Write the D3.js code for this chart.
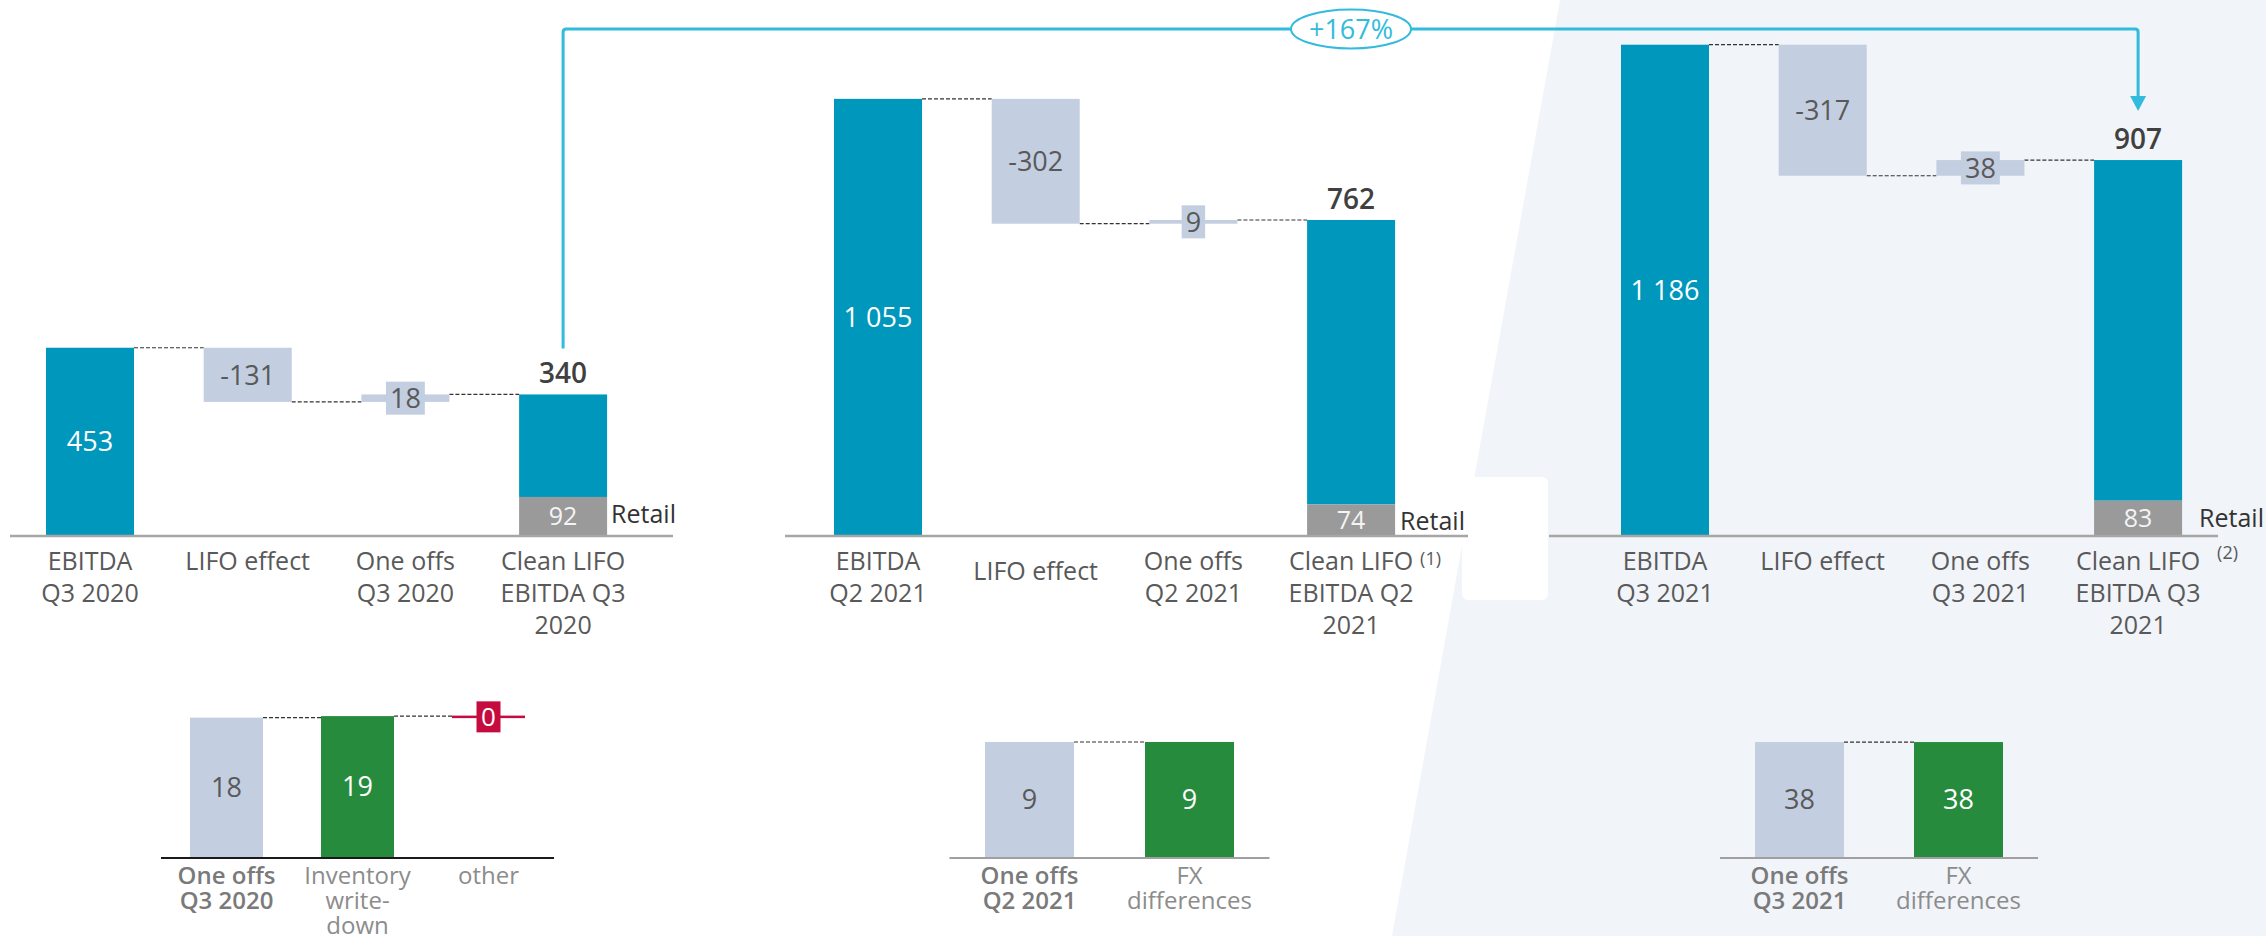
<!DOCTYPE html>
<html><head><meta charset="utf-8">
<script src="https://cdn.jsdelivr.net/npm/d3@7"></script>
<style>
html,body{margin:0;padding:0;background:#fff;}
svg{display:block;font-family:"Open Sans","Noto Sans",sans-serif;}
</style></head><body>
<svg id="chart" width="2266" height="936"></svg>
<script>
// ---------------- DATA ----------------
const categoriesQ3_2020 = ["EBITDA|Q3 2020", "LIFO effect", "One offs|Q3 2020", "Clean LIFO|EBITDA Q3|2020"];
const categoriesQ2_2021 = ["EBITDA|Q2 2021", "LIFO effect", "One offs|Q2 2021", "Clean LIFO|EBITDA Q2|2021"];
const categoriesQ3_2021 = ["EBITDA|Q3 2021", "LIFO effect", "One offs|Q3 2021", "Clean LIFO|EBITDA Q3|2021"];
const ebitdaValues = [453, 1055, 1186];
const lifoValues = [-131, -302, -317];
const oneOffValues = [18, 9, 38];
const cleanValues = [340, 762, 907];
const retailValues = [92, 74, 83];
const footnotes = ["", "(1)", "(2)"];
const growthLabel = "+167%";

const smallCategories1 = ["One offs|Q3 2020", "Inventory|write-|down", "other"];
const smallValues1 = [18.4, 18.6, -0.2];
const smallCategories2 = ["One offs|Q2 2021", "FX|differences"];
const smallValues2 = [9, 9];
const smallCategories3 = ["One offs|Q3 2021", "FX|differences"];
const smallValues3 = [38, 38];

// ---------------- STYLE ----------------
const C = {
  teal: "#0097bd", light: "#c3cee0", retail: "#9a9a9a", green: "#268b3d",
  red: "#c60c3e", cyan: "#33bbdd", bg: "#f1f4f9", axis: "#a6a6a6",
  text: "#595959", dark: "#404040", conn: "#333333"
};

const svg = d3.select("#chart");
const fmt = d3.formatLocale({decimal: ".", thousands: " ", grouping: [3], currency: ["", ""]}).format(",.0f");

// background
svg.append("rect").attr("width", 2266).attr("height", 936).attr("fill", "#fff");
svg.append("polygon").attr("points", "1560,0 2266,0 2266,936 1392,936").attr("fill", C.bg);
svg.append("rect").attr("x", 1462).attr("y", 477).attr("width", 86).attr("height", 123).attr("rx", 6).attr("fill", "#fff");

// ---------------- MAIN WATERFALLS ----------------
const y = d3.scaleLinear().domain([0, 1000]).range([535, 121.6]);
const step = 157.7, bw = 88, pad = 1 - bw / step;

const panelCfg = [
  {cats: categoriesQ3_2020, x0: 46, ax: [10, 673], retailDx: 4, retailY: 523, lifoShift: 0, noteDx: 0, noteY: 0},
  {cats: categoriesQ2_2021, x0: 834, ax: [785, 1468], retailDx: 5, retailY: 530, lifoShift: 10, noteDx: 25, noteY: 565},
  {cats: categoriesQ3_2021, x0: 1621, ax: [1549, 2218], retailDx: 17, retailY: 527, lifoShift: 0, noteDx: 35, noteY: 559}
];

function multiLine(g, text, x, y0, lh, attrs) {
  const t = g.append("text").attr("x", x).attr("y", y0).attr("text-anchor", "middle");
  Object.entries(attrs).forEach(([k, v]) => t.attr(k, v));
  text.split("|").forEach((s, i) => t.append("tspan").attr("x", x).attr("dy", i === 0 ? 0 : lh).text(s));
  return t;
}

const cleanCenters = [];

panelCfg.forEach((p, i) => {
  const g = svg.append("g");
  const x = d3.scaleBand().domain(p.cats)
    .range([p.x0 - pad / 2 * step, p.x0 - pad / 2 * step + 4 * step])
    .paddingInner(pad).paddingOuter(pad / 2);
  const e = ebitdaValues[i], l = lifoValues[i], o = oneOffValues[i], c = cleanValues[i], r = retailValues[i];
  const [cE, cL, cO, cC] = p.cats;
  const afterL = e + l;

  // connectors
  const conn = [
    [x(cE) + bw, x(cL), e],
    [x(cL) + bw, x(cO), afterL],
    [x(cO) + bw, x(cC), afterL + o]
  ];
  conn.forEach(([x1, x2, v]) => g.append("line").attr("x1", x1).attr("x2", x2)
    .attr("y1", y(v)).attr("y2", y(v)).attr("stroke", C.conn).attr("stroke-width", 1.2).attr("stroke-dasharray", "4,2"));

  // EBITDA
  g.append("rect").attr("x", x(cE)).attr("width", bw).attr("y", y(e)).attr("height", y(0) - y(e)).attr("fill", C.teal);
  g.append("text").attr("x", x(cE) + bw / 2).attr("y", (y(e) + y(0)) / 2).attr("dy", "0.36em")
    .attr("text-anchor", "middle").attr("fill", "#fff").attr("font-size", 27).text(fmt(e));

  // LIFO
  g.append("rect").attr("x", x(cL)).attr("width", bw).attr("y", y(e)).attr("height", y(afterL) - y(e)).attr("fill", C.light);
  g.append("text").attr("x", x(cL) + bw / 2).attr("y", (y(e) + y(afterL)) / 2).attr("dy", "0.36em")
    .attr("text-anchor", "middle").attr("fill", C.text).attr("font-size", 27).text(String(l));

  // One offs
  g.append("rect").attr("x", x(cO)).attr("width", bw).attr("y", y(afterL + o)).attr("height", y(afterL) - y(afterL + o)).attr("fill", C.light);
  const oc = (y(afterL) + y(afterL + o)) / 2;
  const boxG = g.append("g");
  const ot = g.append("text").attr("x", x(cO) + bw / 2).attr("y", oc).attr("dy", "0.36em")
    .attr("text-anchor", "middle").attr("fill", C.text).attr("font-size", 27).text(fmt(o));
  const tw = ot.node().getComputedTextLength();
  boxG.append("rect").attr("x", x(cO) + bw / 2 - tw / 2 - 4).attr("width", tw + 8)
    .attr("y", oc - 16.5).attr("height", 33).attr("fill", C.light);

  // Clean LIFO
  g.append("rect").attr("x", x(cC)).attr("width", bw).attr("y", y(c)).attr("height", y(r) - y(c)).attr("fill", C.teal);
  g.append("rect").attr("x", x(cC)).attr("width", bw).attr("y", y(r)).attr("height", y(0) - y(r)).attr("fill", C.retail);
  g.append("text").attr("x", x(cC) + bw / 2).attr("y", (y(r) + y(0)) / 2).attr("dy", "0.38em")
    .attr("text-anchor", "middle").attr("fill", "#f4f4f4").attr("font-size", 25).text(fmt(r));
  g.append("text").attr("x", x(cC) + bw / 2).attr("y", y(c) - 11)
    .attr("text-anchor", "middle").attr("fill", C.dark).attr("font-size", 28).attr("font-weight", 600).text(fmt(c));
  g.append("text").attr("x", x(cC) + bw + p.retailDx).attr("y", p.retailY)
    .attr("fill", "#333").attr("font-size", 25).text("Retail");
  cleanCenters.push({x: x(cC) + bw / 2, top: y(c)});

  // axis
  g.append("line").attr("x1", p.ax[0]).attr("x2", p.ax[1]).attr("y1", y(0) + 1).attr("y2", y(0) + 1)
    .attr("stroke", C.axis).attr("stroke-width", 2.5);

  // category labels
  p.cats.forEach((cat, k) => {
    const shift = k === 1 ? p.lifoShift : 0;
    multiLine(g, cat, x(cat) + bw / 2, 570 + shift, 32, {"fill": C.text, "font-size": 25});
  });
  if (footnotes[i]) {
    g.append("text").attr("x", x(cC) + bw + p.noteDx).attr("y", p.noteY)
      .attr("fill", C.text).attr("font-size", 18).text(footnotes[i]);
  }
});

// ---------------- GROWTH ARROW ----------------
{
  const a = cleanCenters[0], b = cleanCenters[2];
  const yTop = 29, r = 3;
  const yStart = a.top - 46;
  const yEnd = b.top - 64;
  const path = `M${a.x},${yStart} V${yTop + r} Q${a.x},${yTop} ${a.x + r},${yTop} H${b.x - r} Q${b.x},${yTop} ${b.x},${yTop + r} V${yEnd}`;
  svg.append("path").attr("d", path).attr("fill", "none").attr("stroke", C.cyan).attr("stroke-width", 3);
  svg.append("polygon").attr("points", `${b.x - 8},${yEnd} ${b.x + 8},${yEnd} ${b.x},${yEnd + 15}`).attr("fill", C.cyan);
  const ex = 1351;
  svg.append("ellipse").attr("cx", ex).attr("cy", yTop).attr("rx", 60).attr("ry", 19.5)
    .attr("fill", "#fff").attr("stroke", C.cyan).attr("stroke-width", 2);
  svg.append("text").attr("x", ex).attr("y", yTop).attr("dy", "0.36em").attr("text-anchor", "middle")
    .attr("fill", C.cyan).attr("font-size", 27).text(growthLabel);
}

// ---------------- SMALL BREAKDOWN CHARTS ----------------
const smallCfg = [
  {cats: smallCategories1, vals: smallValues1, range: [161, 554], pad: 1 - 73 / 131,
   yScale: d3.scaleLinear().domain([0, 20]).range([857, 705.5]), axisColor: "#1a1a1a",
   colors: [C.light, C.green, C.red], waterfall: true},
  {cats: smallCategories2, vals: smallValues2, range: [949.5, 1269.5], pad: 1 - 89 / 160,
   yScale: d3.scaleLinear().domain([0, 10]).range([857, 729.2]), axisColor: "#a0a0a0",
   colors: [C.light, C.green], waterfall: false},
  {cats: smallCategories3, vals: smallValues3, range: [1720, 2038], pad: 1 - 89 / 159,
   yScale: d3.scaleLinear().domain([0, 40]).range([857, 736]), axisColor: "#a0a0a0",
   colors: [C.light, C.green], waterfall: false}
];

smallCfg.forEach(s => {
  const g = svg.append("g");
  const x = d3.scaleBand().domain(s.cats).range(s.range).paddingInner(s.pad).paddingOuter(s.pad / 2);
  const yS = s.yScale, w = x.bandwidth();
  // connectors
  g.append("line").attr("x1", x(s.cats[0]) + w).attr("x2", x(s.cats[1]))
    .attr("y1", yS(s.vals[0])).attr("y2", yS(s.vals[0])).attr("stroke", C.conn).attr("stroke-width", 1.2).attr("stroke-dasharray", "4,2");
  if (s.cats.length > 2) {
    g.append("line").attr("x1", x(s.cats[1]) + w).attr("x2", x(s.cats[2]))
      .attr("y1", yS(s.vals[1])).attr("y2", yS(s.vals[1])).attr("stroke", C.conn).attr("stroke-width", 1.2).attr("stroke-dasharray", "4,2");
  }
  s.cats.forEach((cat, k) => {
    const v = s.vals[k];
    let y0, y1;
    if (k < 2) { y0 = 0; y1 = v; } else { y0 = s.vals[1]; y1 = s.vals[1] + v; }
    let top = Math.min(yS(y0), yS(y1)), h = Math.abs(yS(y0) - yS(y1));
    const mid = top + h / 2;
    if (h < 2.5) { top = mid - 1.25; h = 2.5; }
    g.append("rect").attr("x", x(cat)).attr("width", w).attr("y", top).attr("height", h).attr("fill", s.colors[k]);
    const label = `${Math.round(v)}`;
    if (k < 2) {
      g.append("text").attr("x", x(cat) + w / 2).attr("y", mid).attr("dy", "0.36em").attr("text-anchor", "middle")
        .attr("fill", k === 0 ? C.text : "#fff").attr("font-size", 27).text(label);
    } else {
      g.append("rect").attr("x", x(cat) + w / 2 - 12).attr("width", 24).attr("y", mid - 15.5).attr("height", 31).attr("fill", s.colors[k]);
      g.append("text").attr("x", x(cat) + w / 2).attr("y", mid).attr("dy", "0.36em").attr("text-anchor", "middle")
        .attr("fill", "#fff").attr("font-size", 26).text(label);
    }
    multiLine(g, cat, x(cat) + w / 2, 884, 25, k === 0
      ? {"fill": "#7a7a7a", "font-size": 24, "font-weight": 600}
      : {"fill": "#8c8c8c", "font-size": 24});
  });
  g.append("line").attr("x1", s.range[0]).attr("x2", s.range[1]).attr("y1", 858).attr("y2", 858)
    .attr("stroke", s.axisColor).attr("stroke-width", 2);
});
</script>
</body></html>
